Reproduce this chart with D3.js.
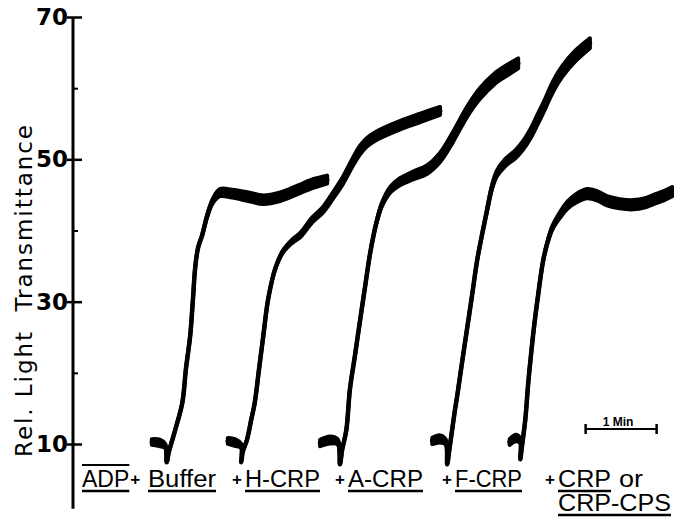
<!DOCTYPE html>
<html>
<head>
<meta charset="utf-8">
<script src="https://cdn.jsdelivr.net/npm/d3@7"></script>
<style>
  body { margin: 0; background: #fff; }
</style>
</head>
<body>
<div id="chart"></div>
<script>
// each point: [time (min), rel. light transmittance (%), oscillation half-width (%)]
const traceBuffer = [
    [1.11, 10.28, 0.4], [1.23, 10.14, 0.45], [1.30, 9.72, 0.3], [1.32, 7.45, 0], [1.35, 8.87, 0],
    [1.44, 11.99, 0], [1.54, 15.82, 0], [1.59, 20.50, 0], [1.65, 25.18, 0], [1.69, 30.43, 0],
    [1.72, 34.68, 0], [1.76, 37.52, 0], [1.82, 39.36, 0.05], [1.89, 42.06, 0.15], [1.97, 44.18, 0.3],
    [2.07, 45.32, 0.5], [2.24, 45.18, 0.55], [2.47, 44.75, 0.6], [2.68, 44.33, 0.6], [2.92, 44.75, 0.6],
    [3.17, 45.74, 0.6], [3.38, 46.60, 0.6], [3.58, 47.16, 0.55]
];
const traceHCRP = [
    [2.18, 10.43, 0.4], [2.30, 10.14, 0.45], [2.37, 9.72, 0.3], [2.37, 7.45, 0], [2.39, 8.87, 0],
    [2.45, 10.57, 0], [2.51, 13.40, 0], [2.56, 15.82, 0], [2.62, 20.50, 0], [2.68, 25.18, 0],
    [2.75, 30.43, 0], [2.85, 34.68, 0.05], [2.96, 37.09, 0.15], [3.09, 38.51, 0.25], [3.20, 39.36, 0.3],
    [3.37, 41.49, 0.35], [3.52, 42.91, 0.4], [3.66, 44.89, 0.45], [3.80, 47.02, 0.5], [3.93, 49.43, 0.55],
    [4.04, 51.28, 0.6], [4.14, 52.41, 0.6], [4.32, 53.55, 0.6], [4.61, 54.82, 0.6], [4.89, 55.82, 0.6],
    [5.17, 56.81, 0.55]
];
const traceACRP = [
    [3.48, 10.14, 0.45], [3.62, 10.57, 0.5], [3.73, 10.28, 0.35], [3.76, 7.16, 0], [3.79, 9.15, 0],
    [3.85, 11.99, 0], [3.90, 17.66, 0], [3.97, 22.34, 0], [4.04, 27.16, 0], [4.11, 31.84, 0],
    [4.18, 36.52, 0], [4.24, 39.65, 0.05], [4.28, 41.35, 0.1], [4.35, 43.62, 0.25], [4.47, 45.74, 0.4],
    [4.61, 46.88, 0.5], [4.79, 47.73, 0.55], [4.99, 48.58, 0.6], [5.17, 50.28, 0.65], [5.35, 53.12, 0.7],
    [5.55, 56.67, 0.7], [5.73, 59.22, 0.75], [5.94, 61.35, 0.75], [6.13, 62.62, 0.75], [6.27, 63.48, 0.7]
];
const traceFCRP = [
    [5.06, 10.43, 0.45], [5.17, 10.71, 0.5], [5.25, 10.28, 0.35], [5.27, 7.16, 0], [5.30, 9.15, 0],
    [5.34, 11.99, 0], [5.38, 14.82, 0], [5.41, 16.67, 0], [5.48, 21.49, 0], [5.55, 26.17, 0],
    [5.62, 30.85, 0], [5.69, 35.67, 0], [5.76, 39.36, 0], [5.83, 42.77, 0.1], [5.90, 46.03, 0.25],
    [5.97, 48.01, 0.4], [6.09, 49.57, 0.5], [6.23, 50.71, 0.55], [6.34, 51.99, 0.6], [6.44, 53.55, 0.65],
    [6.54, 55.53, 0.7], [6.65, 57.80, 0.7], [6.76, 60.21, 0.75], [6.89, 62.34, 0.75], [7.07, 64.47, 0.75],
    [7.28, 66.31, 0.7]
];
const traceCRP = [
    [6.15, 10.28, 0.4], [6.24, 10.85, 0.45], [6.30, 10.43, 0.3], [6.30, 7.87, 0], [6.32, 9.43, 0],
    [6.37, 13.40, 0], [6.41, 18.37, 0], [6.44, 21.49, 0], [6.49, 26.17, 0], [6.55, 30.85, 0],
    [6.62, 35.67, 0], [6.68, 38.23, 0.1], [6.75, 40.35, 0.25], [6.86, 42.20, 0.4], [6.97, 43.62, 0.5],
    [7.10, 44.61, 0.6], [7.24, 45.18, 0.65], [7.38, 44.89, 0.65], [7.52, 44.18, 0.65], [7.70, 43.76, 0.65],
    [7.89, 43.62, 0.65], [8.06, 43.90, 0.65], [8.17, 44.33, 0.65], [8.32, 44.89, 0.65], [8.44, 45.46, 0.65]
];

const yTicks = [10, 30, 50, 70];
const yMinorTicks = [20, 40, 60];
const yTitle = "Rel. Light  Transmittance";
const scaleBarLabel = "1 Min";

const width = 674;
const height = 522;
const labelFont = "'Liberation Sans', Arial, sans-serif";

const svg = d3.select("#chart")
    .append("svg")
    .attr("width", width)
    .attr("height", height);

// 1 min = 71 px on the recorder paper
const x = d3.scaleLinear().domain([0, 1]).range([73, 144]);
const y = d3.scaleLinear().domain([10, 70]).range([444, 17]);

const traces = [traceBuffer, traceHCRP, traceACRP, traceFCRP, traceCRP];

const curve = d3.curveCatmullRom.alpha(0.5);

const band = d3.area()
    .x(d => x(d[0]))
    .y0(d => y(d[1] - d[2]))
    .y1(d => y(d[1] + d[2]))
    .curve(curve);

const line = d3.line()
    .x(d => x(d[0]))
    .y(d => y(d[1]))
    .curve(curve);

svg.selectAll("path.band")
    .data(traces)
    .enter().append("path")
    .attr("class", "band")
    .attr("d", band)
    .attr("fill", "#000")
    .attr("stroke", "#000")
    .attr("stroke-width", 4)
    .attr("stroke-linejoin", "round");

svg.selectAll("path.trace")
    .data(traces)
    .enter().append("path")
    .attr("class", "trace")
    .attr("d", line)
    .attr("fill", "none")
    .attr("stroke", "#000")
    .attr("stroke-width", 4.5)
    .attr("stroke-linejoin", "round")
    .attr("stroke-linecap", "round");

// y axis
svg.append("line")
    .attr("x1", 73).attr("x2", 73)
    .attr("y1", y(70)).attr("y2", y(0.9))
    .attr("stroke", "#000")
    .attr("stroke-width", 3);

const yAxis = svg.append("g")
    .attr("transform", "translate(73,0)")
    .call(d3.axisLeft(y).tickValues(yTicks).tickSize(7).tickPadding(0));

yAxis.select(".domain").remove();
yAxis.selectAll(".tick line")
    .attr("x1", -6).attr("x2", 9)
    .attr("stroke-width", 2.5);
yAxis.selectAll(".tick text")
    .attr("x", -5)
    .attr("font-family", "'DejaVu Sans', sans-serif")
    .attr("font-weight", "bold")
    .attr("font-size", 23)
    .attr("fill", "#000");

const yMinor = svg.append("g")
    .attr("transform", "translate(73,0)")
    .call(d3.axisRight(y).tickValues(yMinorTicks).tickSize(5).tickFormat(""));
yMinor.select(".domain").remove();
yMinor.selectAll(".tick line").attr("stroke-width", 2);

svg.append("text")
    .attr("transform", "translate(32,291) rotate(-90)")
    .attr("text-anchor", "middle")
    .attr("font-family", "'DejaVu Sans', sans-serif")
    .attr("font-size", 23)
    .attr("textLength", 332)
    .attr("lengthAdjust", "spacing")
    .style("white-space", "pre")
    .text(yTitle);

// 1 min scale bar
const barT0 = 7.22;
const barY = 429;
svg.append("line")
    .attr("x1", x(barT0)).attr("x2", x(barT0 + 1))
    .attr("y1", barY).attr("y2", barY)
    .attr("stroke", "#000").attr("stroke-width", 2);
[barT0, barT0 + 1].forEach(t => {
    svg.append("line")
        .attr("x1", x(t)).attr("x2", x(t))
        .attr("y1", barY - 5).attr("y2", barY + 5)
        .attr("stroke", "#000").attr("stroke-width", 2.5);
});
svg.append("text")
    .attr("x", x(barT0 + 0.5) - 3)
    .attr("y", barY - 3)
    .attr("text-anchor", "middle")
    .attr("font-family", labelFont)
    .attr("font-weight", "bold")
    .attr("font-size", 12)
    .text(scaleBarLabel);

// condition labels under the traces
function word(txt, xPos, yPos, opts) {
    opts = opts || {};
    const t = svg.append("text")
        .attr("x", xPos)
        .attr("y", yPos)
        .attr("font-family", labelFont)
        .attr("font-size", opts.size || 23)
        .attr("font-weight", opts.bold ? "bold" : "normal")
        .text(txt);
    if (opts.len) t.attr("textLength", opts.len).attr("lengthAdjust", "spacingAndGlyphs");
    const w = opts.len || t.node().getComputedTextLength();
    if (opts.under) {
        svg.append("line")
            .attr("x1", xPos).attr("x2", xPos + w)
            .attr("y1", yPos + 4).attr("y2", yPos + 4)
            .attr("stroke", "#000").attr("stroke-width", 2.5);
    }
    if (opts.over) {
        svg.append("line")
            .attr("x1", xPos).attr("x2", xPos + w)
            .attr("y1", yPos - 22).attr("y2", yPos - 22)
            .attr("stroke", "#000").attr("stroke-width", 2);
    }
    return xPos + w;
}

const plus = { size: 17, bold: true };
const rowY = 487;
let end = word("ADP", 82, rowY, { under: true, over: true });
word("+", end + 1, rowY - 2, plus);
word("Buffer", 148, rowY, { under: true, len: 68 });
word("+", 232, rowY - 2, plus);
word("H-CRP", 245, rowY, { under: true, len: 75 });
word("+", 335, rowY - 2, plus);
word("A-CRP", 348, rowY, { under: true, len: 75 });
word("+", 442, rowY - 2, plus);
word("F-CRP", 455, rowY, { under: true, len: 67 });
word("+", 545, rowY - 2, plus);
end = word("CRP", 558, rowY, { under: true, len: 53 });
word("or", end + 8, rowY, { len: 24 });
word("CRP-CPS", 558, 511, { under: true, len: 113 });
</script>
</body>
</html>
